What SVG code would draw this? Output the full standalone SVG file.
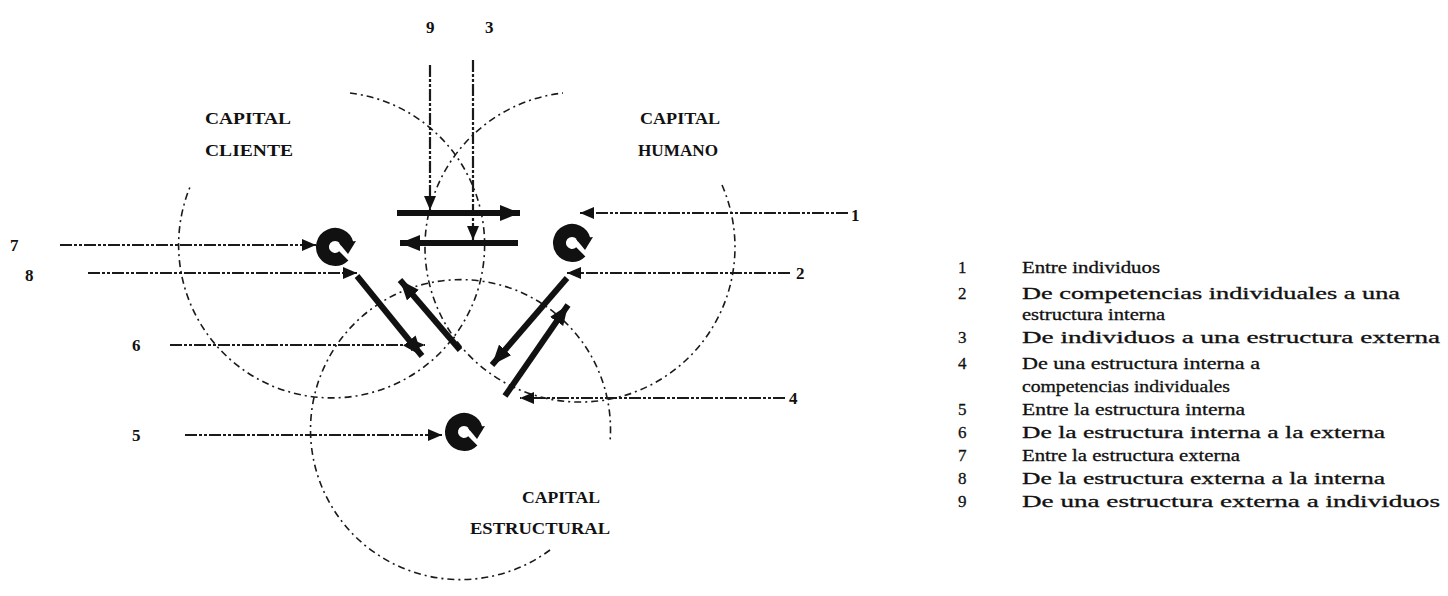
<svg xmlns="http://www.w3.org/2000/svg" width="1448" height="596" viewBox="0 0 1448 596">
<style>
.circ{fill:none;stroke:#1a1a1a;stroke-width:1.6;stroke-dasharray:7 4 2 4}
.thin{fill:none;stroke:#1a1a1a;stroke-width:2.2;stroke-dasharray:12 2 3 2 3 2}
.thick{fill:none;stroke:#111;stroke-width:6}
.ring{fill:none;stroke:#111;stroke-width:13}
.cap{font-family:"Liberation Serif","Times New Roman",serif;font-size:17px;font-weight:bold;fill:#111}
.num{font-family:"Liberation Serif","Times New Roman",serif;font-size:17px;font-weight:bold;fill:#111}
.leg{font-family:"Liberation Serif","Times New Roman",serif;font-size:17px;fill:#111;stroke:#111;stroke-width:0.3}
</style>
<defs>
<marker id="ah" markerUnits="userSpaceOnUse" markerWidth="14" markerHeight="12" refX="14" refY="6" orient="auto"><path d="M0,0 L14,6 L0,12 z" fill="#111"/></marker>
<marker id="ahb" markerUnits="userSpaceOnUse" markerWidth="20" markerHeight="16" refX="20" refY="8" orient="auto"><path d="M0,0 L20,8 L0,16 z" fill="#111"/></marker>
<g id="icon"><path class="ring" d="M8.8 8.8 A12.5 12.5 0 1 1 12.1 -3.2"/><path d="M4,-4 L21,-6 L13,7 z" fill="#111"/></g>
</defs>
<rect width="1448" height="596" fill="#fff"/>

<g id="circles">
<path class="circ" d="M350 93 A153 153 0 1 1 190 187"/>
<path class="circ" d="M722 185 A155 155 0 1 1 563 93"/>
<path class="circ" d="M550 550 A150 150 0 1 1 610 442"/>
</g>

<g id="connectors">
<line class="thin" x1="430" y1="65" x2="430" y2="210" marker-end="url(#ah)"/>
<line class="thin" x1="473" y1="60" x2="473" y2="240" marker-end="url(#ah)"/>
<line class="thick" x1="397" y1="213" x2="520" y2="213" marker-end="url(#ahb)"/>
<line class="thick" x1="518" y1="243" x2="400" y2="243" marker-end="url(#ahb)"/>
<line class="thin" x1="848" y1="213" x2="580" y2="213" marker-end="url(#ah)"/>
<line class="thin" x1="60" y1="245" x2="316" y2="245" marker-end="url(#ah)"/>
<line class="thin" x1="790" y1="273" x2="567" y2="273" marker-end="url(#ah)"/>
<line class="thin" x1="88" y1="273" x2="357" y2="273" marker-end="url(#ah)"/>
<line class="thin" x1="170" y1="345" x2="425" y2="345" marker-end="url(#ah)"/>
<line class="thin" x1="785" y1="398" x2="520" y2="398" marker-end="url(#ah)"/>
<line class="thin" x1="185" y1="435" x2="442" y2="435" marker-end="url(#ah)"/>
<line class="thick" x1="357" y1="276" x2="422" y2="356" marker-end="url(#ahb)"/>
<line class="thick" x1="460" y1="350" x2="400" y2="280" marker-end="url(#ahb)"/>
<line class="thick" x1="567" y1="278" x2="492" y2="365" marker-end="url(#ahb)"/>
<line class="thick" x1="505" y1="396" x2="568" y2="305" marker-end="url(#ahb)"/>
</g>

<g id="node-cliente">
<use href="#icon" x="335" y="247"/>
<text class="cap" x="205" y="124" textLength="86" lengthAdjust="spacingAndGlyphs">CAPITAL</text>
<text class="cap" x="205" y="156" textLength="88" lengthAdjust="spacingAndGlyphs">CLIENTE</text>
</g>
<g id="node-humano">
<use href="#icon" x="572" y="243"/>
<text class="cap" x="640" y="124" textLength="80" lengthAdjust="spacingAndGlyphs">CAPITAL</text>
<text class="cap" x="638" y="156" textLength="80" lengthAdjust="spacingAndGlyphs">HUMANO</text>
</g>
<g id="node-estructural">
<use href="#icon" x="464" y="432"/>
<text class="cap" x="522" y="503" textLength="78" lengthAdjust="spacingAndGlyphs">CAPITAL</text>
<text class="cap" x="470" y="534" textLength="140" lengthAdjust="spacingAndGlyphs">ESTRUCTURAL</text>
</g>

<g id="numbers">
<text class="num" x="426" y="33">9</text>
<text class="num" x="485" y="33">3</text>
<text class="num" x="851" y="221">1</text>
<text class="num" x="10" y="251">7</text>
<text class="num" x="796" y="279">2</text>
<text class="num" x="25" y="281">8</text>
<text class="num" x="132" y="351">6</text>
<text class="num" x="789" y="404">4</text>
<text class="num" x="132" y="441">5</text>
</g>

<g id="legend">
<text class="leg" x="958" y="273">1</text><text class="leg" x="1022" y="273" textLength="138" lengthAdjust="spacingAndGlyphs">Entre individuos</text>
<text class="leg" x="958" y="299">2</text><text class="leg" x="1022" y="299" textLength="378" lengthAdjust="spacingAndGlyphs">De competencias individuales a una</text>
<text class="leg" x="1022" y="320" textLength="143" lengthAdjust="spacingAndGlyphs">estructura interna</text>
<text class="leg" x="958" y="343">3</text><text class="leg" x="1022" y="343" textLength="418" lengthAdjust="spacingAndGlyphs">De individuos a una estructura externa</text>
<text class="leg" x="958" y="369">4</text><text class="leg" x="1022" y="369" textLength="238" lengthAdjust="spacingAndGlyphs">De una estructura interna a</text>
<text class="leg" x="1022" y="392" textLength="208" lengthAdjust="spacingAndGlyphs">competencias individuales</text>
<text class="leg" x="958" y="415">5</text><text class="leg" x="1022" y="415" textLength="223" lengthAdjust="spacingAndGlyphs">Entre la estructura interna</text>
<text class="leg" x="958" y="438">6</text><text class="leg" x="1022" y="438" textLength="363" lengthAdjust="spacingAndGlyphs">De la estructura interna a la externa</text>
<text class="leg" x="958" y="461">7</text><text class="leg" x="1022" y="461" textLength="218" lengthAdjust="spacingAndGlyphs">Entre la estructura externa</text>
<text class="leg" x="958" y="484">8</text><text class="leg" x="1022" y="484" textLength="363" lengthAdjust="spacingAndGlyphs">De la estructura externa a la interna</text>
<text class="leg" x="958" y="507">9</text><text class="leg" x="1022" y="507" textLength="418" lengthAdjust="spacingAndGlyphs">De una estructura externa a individuos</text>
</g>
</svg>
